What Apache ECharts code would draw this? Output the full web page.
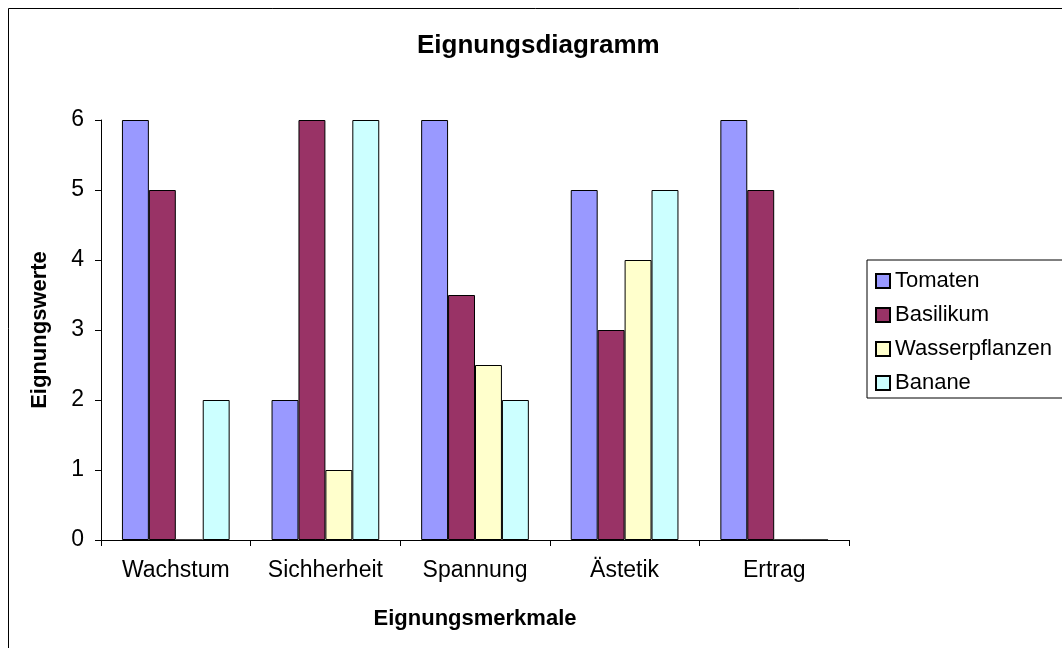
<!DOCTYPE html>
<html>
<head>
<meta charset="utf-8">
<script src="https://cdn.jsdelivr.net/npm/echarts@6/dist/echarts.min.js"></script>
<style>html,body{margin:0;padding:0;background:#fff}#c{width:1062px;height:648px}</style>
</head>
<body>
<div id="c"></div>
<script>
const categories = ['Wachstum', 'Sichherheit', 'Spannung', 'Ästetik', 'Ertrag'];
const tomaten = [6, 2, 6, 5, 6];
const basilikum = [5, 6, 3.5, 3, 5];
const wasserpflanzen = [0, 1, 2.5, 4, 0];
const banane = [2, 6, 2, 5, 0];
const seriesNames = ['Tomaten', 'Basilikum', 'Wasserpflanzen', 'Banane'];
const seriesColors = ['#9999FF', '#993366', '#FFFFCC', '#CCFFFF'];
const yTicks = [0, 1, 2, 3, 4, 5, 6];

const font = 'Liberation Sans, Arial, sans-serif';
const chart = echarts.init(document.getElementById('c'), null, {renderer: 'canvas'});
const allData = [tomaten, basilikum, wasserpflanzen, banane];
chart.setOption({
  animation: false,
  backgroundColor: '#fff',
  textStyle: {fontFamily: font, color: '#000'},
  title: {
    text: 'Eignungsdiagramm', left: 412, top: 28,
    textStyle: {fontFamily: font, fontSize: 26, fontWeight: 'bold', color: '#000'}
  },
  graphic: [{
    type: 'rect', shape: {x: 8.5, y: 8.5, width: 1200, height: 800},
    style: {fill: 'none', stroke: '#000', lineWidth: 1}, silent: true, z: 100
  }],
  legend: {
    orient: 'vertical', left: 867, top: 260,
    padding: [10, 60, 4, 8], itemGap: 12,
    itemWidth: 14, itemHeight: 14,
    borderColor: '#000', borderWidth: 1,
    icon: 'rect',
    textStyle: {fontFamily: font, fontSize: 22, color: '#000'},
    data: seriesNames
  },
  grid: {left: 101, right: 213, top: 120, bottom: 108, containLabel: false},
  xAxis: {
    type: 'category', data: categories,
    name: 'Eignungsmerkmale', nameLocation: 'middle', nameGap: 68,
    nameTextStyle: {fontFamily: font, fontSize: 22, fontWeight: 'bold', color: '#000'},
    axisLine: {lineStyle: {color: '#000', width: 1}},
    axisTick: {show: true, length: 6, alignWithLabel: false, lineStyle: {color: '#000'}},
    axisLabel: {fontFamily: font, fontSize: 23, color: '#000', margin: 19}
  },
  yAxis: {
    type: 'value', min: 0, max: 6, interval: 1,
    name: 'Eignungswerte', nameLocation: 'middle', nameGap: 50,
    nameTextStyle: {fontFamily: font, fontSize: 22, fontWeight: 'bold', color: '#000'},
    axisLine: {show: true, lineStyle: {color: '#000', width: 1}},
    axisTick: {show: true, length: 6, lineStyle: {color: '#000'}},
    splitLine: {show: false},
    axisLabel: {fontFamily: font, fontSize: 23, color: '#000', margin: 17,
      formatter: v => yTicks.includes(v) ? String(v) : ''}
  },
  series: seriesNames.map((n, i) => ({
    name: n, type: 'bar', data: allData[i],
    barGap: '0%', barCategoryGap: '28%',
    itemStyle: {color: seriesColors[i], borderColor: '#000', borderWidth: 1}
  }))
});
</script>
</body>
</html>
